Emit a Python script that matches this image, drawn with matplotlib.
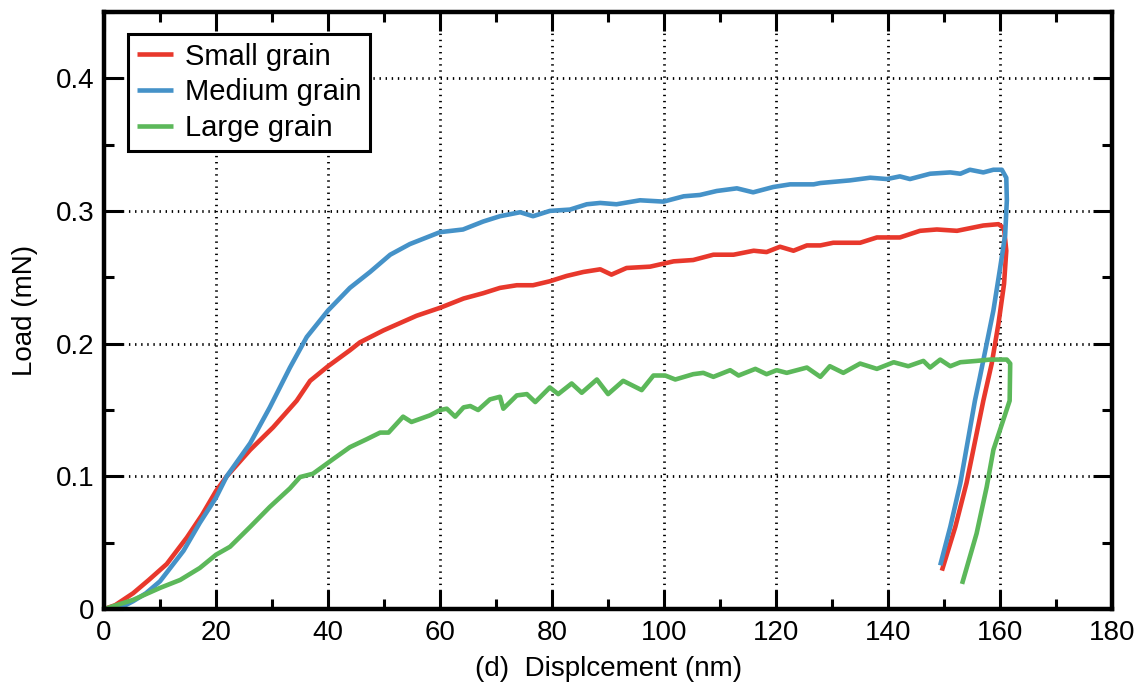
import matplotlib
matplotlib.use("Agg")
import matplotlib.pyplot as plt
from matplotlib.ticker import MultipleLocator, FuncFormatter

plt.rcParams['font.family'] = ['Liberation Sans', 'DejaVu Sans']

# Load-displacement curves (loading + unloading)
small_x = [0, 2, 5.2, 8, 11.2, 14.8, 17.5, 20, 21.9, 26.1, 30.2, 34.4, 36.8, 40,
           43.9, 45.7, 49.9, 55.8, 60, 64.2, 67.7, 70.7, 73.7, 76.6, 79.6, 82.6,
           85.6, 88.6, 90.6, 93.3, 97.5, 101.7, 105.2, 108.8, 112.4, 116, 118.3,
           120.7, 123.1, 125.5, 127.9, 130.2, 135, 138, 142.1, 145.7, 148.7,
           152.3, 157, 159.7, 160.7, 161.1, 160.7, 159.7, 158.5, 157, 154, 152,
           149.6]
small_y = [0, 0.003, 0.012, 0.022, 0.034, 0.054, 0.071, 0.089, 0.1, 0.12, 0.137,
           0.157, 0.172, 0.183, 0.195, 0.201, 0.21, 0.221, 0.227, 0.234, 0.238,
           0.242, 0.244, 0.244, 0.247, 0.251, 0.254, 0.256, 0.252, 0.257, 0.258,
           0.262, 0.263, 0.267, 0.267, 0.27, 0.269, 0.273, 0.27, 0.274, 0.274,
           0.276, 0.276, 0.28, 0.28, 0.285, 0.286, 0.285, 0.289, 0.29, 0.287,
           0.27, 0.245, 0.215, 0.185, 0.157, 0.095, 0.062, 0.029]

medium_x = [0, 3.4, 5.2, 7.5, 10, 14.2, 17.1, 20, 21.9, 26.1, 29.6, 33.2, 36.2,
            40, 43.9, 47.5, 51.1, 54.6, 60, 64.1, 67.7, 70.7, 74.3, 76.6, 79.6,
            83.2, 86.2, 88.6, 91.5, 95.7, 99.9, 103.5, 106.4, 109.4, 113, 115.9,
            119.5, 122.5, 126.7, 127.9, 133.2, 136.8, 139.8, 142.1, 143.9, 147.5,
            151.1, 152.9, 154.6, 157, 158.8, 160.3, 161.1, 161.2, 160.9, 160,
            158.8, 157.6, 156.4, 155.5, 152.9, 151.1, 149.3]
medium_y = [0, 0.002, 0.006, 0.012, 0.021, 0.044, 0.065, 0.084, 0.1, 0.125,
            0.152, 0.182, 0.205, 0.225, 0.242, 0.254, 0.267, 0.275, 0.284, 0.286,
            0.292, 0.296, 0.299, 0.296, 0.3, 0.301, 0.305, 0.306, 0.305, 0.308,
            0.307, 0.311, 0.312, 0.315, 0.317, 0.314, 0.318, 0.32, 0.32, 0.321,
            0.323, 0.325, 0.324, 0.326, 0.324, 0.328, 0.329, 0.328, 0.331, 0.329,
            0.331, 0.331, 0.325, 0.308, 0.282, 0.257, 0.225, 0.2, 0.175, 0.157,
            0.095, 0.062, 0.033]

large_x = [0, 5.2, 10, 13.6, 17.1, 20, 22.5, 26.1, 29.6, 33.2, 35, 37.3, 40.9,
           43.9, 46.9, 49.3, 50.8, 53.4, 54.9, 58.2, 60, 61.2, 62.7, 64.2, 65.4,
           66.8, 68.9, 70.7, 71.3, 73.7, 75.5, 77, 79.6, 81.1, 83.5, 85.3, 88,
           90, 92.7, 96, 98.1, 100.2, 102, 105.2, 107, 108.8, 111.8, 113.3,
           116.3, 118.3, 120.1, 121.9, 125.5, 127.9, 129.6, 132, 135, 138, 141,
           143.6, 146.3, 147.5, 149.3, 151.1, 152.9, 155.8, 158.2, 161.2, 161.8,
           161.7, 158.8, 157.6, 155.8, 153.2]
large_y = [0, 0.007, 0.016, 0.022, 0.031, 0.041, 0.047, 0.062, 0.077, 0.091,
           0.0995, 0.102, 0.113, 0.122, 0.128, 0.133, 0.133, 0.145, 0.141, 0.146,
           0.15, 0.151, 0.145, 0.152, 0.153, 0.15, 0.158, 0.16, 0.151, 0.161,
           0.162, 0.156, 0.167, 0.162, 0.17, 0.163, 0.173, 0.162, 0.172, 0.165,
           0.176, 0.176, 0.173, 0.177, 0.178, 0.175, 0.18, 0.176, 0.181, 0.177,
           0.18, 0.178, 0.182, 0.175, 0.183, 0.178, 0.185, 0.181, 0.186, 0.183,
           0.187, 0.182, 0.188, 0.183, 0.186, 0.187, 0.188, 0.188, 0.185, 0.157,
           0.12, 0.092, 0.057, 0.019]

labels = ['Small grain', 'Medium grain', 'Large grain']
colors = ['#e8382c', '#4592c8', '#5cb85a']

fig = plt.figure(figsize=(11.43, 6.93), dpi=100)
ax = fig.add_axes([0.091, 0.121, 0.882, 0.862])

for xs, ys, lab, c in zip([small_x, medium_x, large_x],
                          [small_y, medium_y, large_y], labels, colors):
    ax.plot(xs, ys, color=c, lw=3.3, label=lab, solid_joinstyle='round',
            solid_capstyle='butt')

ax.set_xlim(0, 180)
ax.set_ylim(0, 0.45)
ax.xaxis.set_major_locator(MultipleLocator(20))
ax.xaxis.set_minor_locator(MultipleLocator(10))
ax.yaxis.set_major_locator(MultipleLocator(0.1))
ax.yaxis.set_minor_locator(MultipleLocator(0.05))
ax.yaxis.set_major_formatter(FuncFormatter(lambda v, p: '%g' % round(v, 2)))

# dotted grid on the major ticks
ax.grid(True, which='major', color='black', lw=2.0, linestyle=(0, (0.5, 1.7)))
ax.set_axisbelow(True)

for s in ax.spines.values():
    s.set_linewidth(3.2)
ax.tick_params(which='both', direction='in', top=True, right=True,
               labelsize=20, width=2.2)
ax.tick_params(which='major', length=14)
ax.tick_params(which='minor', length=7)
ax.tick_params(axis='x', pad=8)
ax.tick_params(axis='y', pad=7)

ax.set_xlabel('(d)  Displcement (nm)', fontsize=20, labelpad=7)
ax.set_ylabel('Load (mN)', fontsize=20, labelpad=13)

leg = ax.legend(loc='upper left', bbox_to_anchor=(0.0238, 0.963),
                borderaxespad=0, fontsize=21, handlelength=1.25,
                handletextpad=0.4, labelspacing=0.26, borderpad=0.3,
                fancybox=False, framealpha=1)
leg.get_frame().set_edgecolor('black')
leg.get_frame().set_linewidth(2.2)

fig.savefig('out.png', dpi=100)
